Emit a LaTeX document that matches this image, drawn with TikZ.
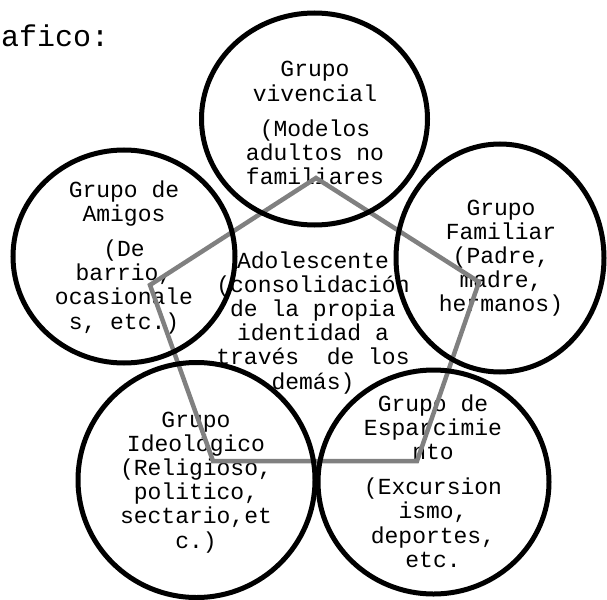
\documentclass[tikz,border=0pt]{standalone}
\usepackage{fontspec}
\setmonofont{Liberation Mono}
\usetikzlibrary{shapes.geometric}
\definecolor{linkgray}{RGB}{128,128,128}
\newcommand\txtblock[1]{\begin{tabular}[t]{@{}c@{}}#1\end{tabular}}
\begin{document}
\begin{tikzpicture}[x=1pt,y=-1pt,
  ring/.style={draw=black, line width=5pt, ellipse, inner sep=0pt},
  lbl/.style={anchor=base, inner sep=0pt, font=\ttfamily\fontsize{23}{24.2}\selectfont},
  link/.style={draw=linkgray, line width=4.5pt, line join=miter}]
\useasboundingbox (0,0) rectangle (607,599);
% heading fragment
\node[anchor=base west, inner sep=0pt, font=\ttfamily\fontsize{30}{32}\selectfont] (head) at (1,47) {afico:};
% texts
\node[lbl] (tviv) at (315,77) {\txtblock{Grupo\\vivencial\\[11pt](Modelos\\adultos no\\familiares}};
\node[lbl] (tami) at (124,197) {\txtblock{Grupo de\\Amigos\\[11pt](De\\barrio,\\ocasionale\\s, etc.)}};
\node[lbl] (tfam) at (501,215) {\txtblock{Grupo\\Familiar\\(Padre,\\madre,\\hermanos)}};
\node[lbl] (tado) at (313,268) {\txtblock{Adolescente\\(consolidación\\de la propia\\identidad a\\través\ \ de los\\demás)}};
\node[lbl] (tideo) at (196,427) {\txtblock{Grupo\\Ideológico\\(Religioso,\\politico,\\sectario,et\\c.)}};
\node[lbl] (tesp) at (433,411) {\txtblock{Grupo de\\Esparcimie\\nto\\[11pt](Excursion\\ismo,\\deportes,\\etc.}};
% pentagon
\coordinate (p1) at (316,178);
\coordinate (p2) at (479,282);
\coordinate (p3) at (417,461);
\coordinate (p4) at (213,461);
\coordinate (p5) at (150,285);
\draw[link] (p1) -- (p2) -- (p3) -- (p4) -- (p5) -- cycle;
% circles
\node[ring, minimum width=226pt, minimum height=212pt] (viv) at (314.5,119) {};
\node[ring, minimum width=222pt, minimum height=213pt] (ami) at (124,256.5) {};
\node[ring, minimum width=208pt, minimum height=228pt] (fam) at (500,258) {};
\node[ring, minimum width=237pt, minimum height=235pt] (ideo) at (196.5,480) {};
\node[ring, minimum width=231pt, minimum height=224pt] (esp) at (433.5,482) {};
\end{tikzpicture}
\end{document}
